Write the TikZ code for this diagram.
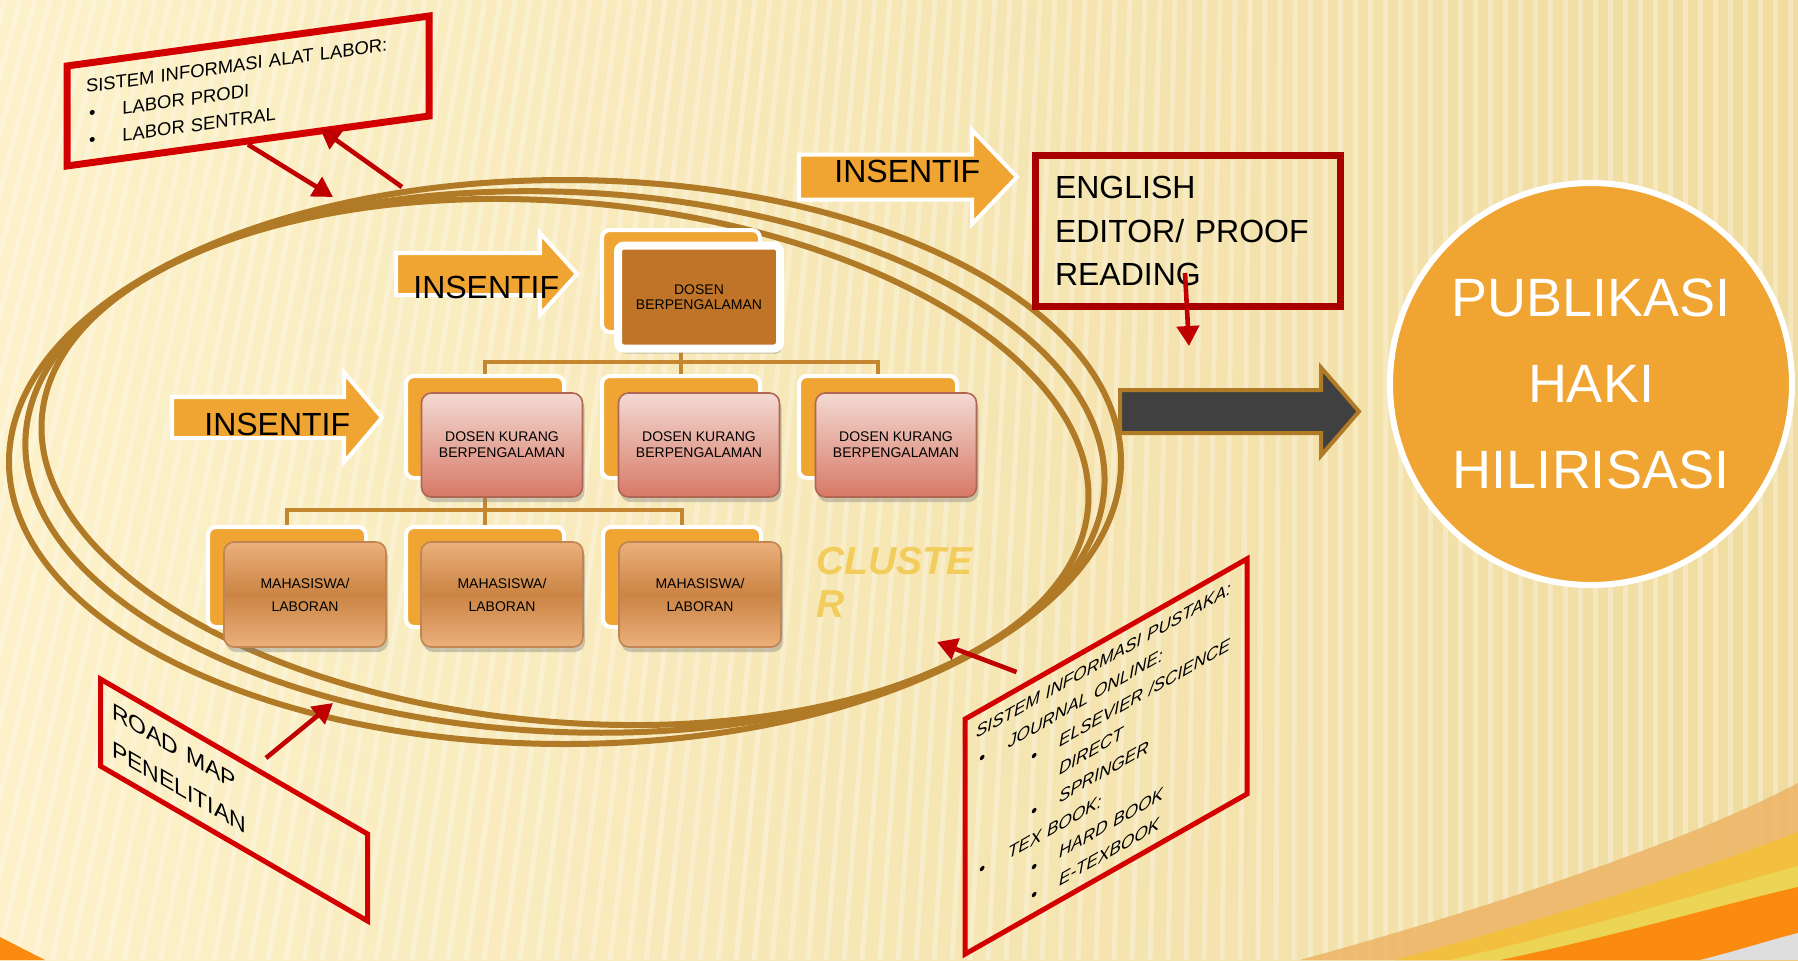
\documentclass[tikz,border=0pt]{standalone}
\usepackage{fontspec}
\setmainfont{Liberation Sans}
\usetikzlibrary{calc,shadows,arrows.meta}
\definecolor{bgleft}{HTML}{FCF1C9}
\definecolor{bgright}{HTML}{F0DCA0}
\definecolor{ringbrown}{HTML}{B07A26}
\definecolor{insorange}{HTML}{F0A431}
\definecolor{boxred}{HTML}{D20000}
\definecolor{arrred}{HTML}{C00000}
\definecolor{engred}{HTML}{A80000}
\definecolor{topbrown}{HTML}{C07428}
\definecolor{connbrown}{HTML}{C4862E}
\definecolor{pinktop}{HTML}{F3DAD3}
\definecolor{pinkbot}{HTML}{D77966}
\definecolor{pinkedge}{HTML}{AF6652}
\definecolor{mhlight}{HTML}{EBB07C}
\definecolor{mhdark}{HTML}{CB8444}
\definecolor{mhedge}{HTML}{C08552}
\definecolor{clustercol}{HTML}{F3CD5C}
\definecolor{darkbody}{HTML}{404040}
\definecolor{swlight}{HTML}{EDB466}
\definecolor{swyellow}{HTML}{F3BF3E}
\definecolor{swpale}{HTML}{ECD455}
\definecolor{sworange}{HTML}{FA8B10}
\definecolor{swgrey}{HTML}{DEDEDE}

\tikzset{
  stripe/.style={draw=white, opacity=.3, line width=2.5pt},
  ring/.style={draw=ringbrown, line width=3pt},
  conn/.style={draw=connbrown, line width=2pt},
  backbox/.style={fill=insorange, draw=white, line width=2pt, rounded corners=4pt,
    minimum width=79pt, minimum height=51pt},
  topbox/.style={fill=topbrown, draw=white, line width=4pt, rounded corners=3pt,
    minimum width=81pt, minimum height=51.5pt, align=center,
    font=\fontsize{7}{7.5}\selectfont,
    drop shadow={opacity=.4, shadow xshift=1pt, shadow yshift=-2.5pt}},
  dosbox/.style={top color=pinktop, bottom color=pinkbot, draw=pinkedge, line width=.8pt,
    rounded corners=5pt, minimum width=80.5pt, minimum height=52pt, align=center,
    font=\fontsize{7}{8}\selectfont,
    drop shadow={opacity=.4, shadow xshift=1pt, shadow yshift=-2.5pt}},
  mhsbox/.style={top color=mhlight, bottom color=mhlight, middle color=mhdark,
    draw=mhedge, line width=.8pt, rounded corners=5pt, minimum width=81pt,
    minimum height=52.5pt, align=center, font=\fontsize{7}{11.5}\selectfont,
    drop shadow={opacity=.4, shadow xshift=1pt, shadow yshift=-2.5pt}},
  insarrow/.style={fill=insorange, draw=white, line width=2pt},
  instext/.style={font=\fontsize{16}{16}\selectfont, anchor=base west, inner sep=0pt},
  redbox/.style={draw=boxred, align=left, inner sep=0pt},
  redarr/.style={draw=arrred, line width=2.3pt, -{Triangle[length=10pt,width=11pt]}},
}

% fat block arrow: style, tail x, axis y, half shaft, head base x, tip x, half head
\newcommand{\fatarrow}[7]{%
  \path[#1] (#2,#3-#4) -- (#5,#3-#4) -- (#5,#3-#7) -- (#6,#3)
    -- (#5,#3+#7) -- (#5,#3+#4) -- (#2,#3+#4) -- cycle;}

\begin{document}
\begin{tikzpicture}[x=0.5pt, y=-0.5pt]
\useasboundingbox (0,0) rectangle (1798,960);

% background
\begin{scope}
\clip (0,0) rectangle (1798,960);
\shade[left color=bgleft, right color=bgright] (0,0) rectangle (1798,960);
\foreach \x in {-400,-385,...,1800}
  \draw[stripe] (\x,0) -- ({\x-max(0,0.2*(1300-\x))},960);
\fill[swlight, opacity=.85] (1300,960) .. controls (1500,905) and (1690,840) .. (1798,783) -- (1798,960) -- cycle;
\fill[swyellow] (1395,960) .. controls (1560,915) and (1700,870) .. (1798,832) -- (1798,960) -- cycle;
\fill[swpale] (1450,960) .. controls (1600,925) and (1710,890) .. (1798,866) -- (1798,960) -- cycle;
\fill[sworange] (1500,960) .. controls (1620,935) and (1720,905) .. (1798,887) -- (1798,960) -- cycle;
\fill[swgrey] (1700,960) .. controls (1740,950) and (1770,940) .. (1798,933) -- (1798,960) -- cycle;
\fill[sworange] (0,937) -- (45,960) -- (0,960) -- cycle;
\end{scope}

% cluster rings
\coordinate (cl) at (565,462);
\draw[ring] (cl) ellipse [x radius=556, y radius=282];
\draw[ring, rotate around={-2.5:(cl)}] (cl) ellipse [x radius=540, y radius=270];
\draw[ring, rotate around={-5:(cl)}] (cl) ellipse [x radius=525, y radius=260];

% org chart
\node[backbox] (d0b) at (681,281) {};
\node[backbox] (d1b) at (485,427) {};
\node[backbox] (d2b) at (681,427) {};
\node[backbox] (d3b) at (878,427) {};
\node[backbox, minimum height=50pt] (m1b) at (287,577) {};
\node[backbox, minimum height=50pt] (m2b) at (485,577) {};
\node[backbox, minimum height=50pt] (m3b) at (682,577) {};

\draw[conn] (d0b.south) -- (d2b.north);
\draw[conn] (d1b.north) -- ++(0,-12) -| (d3b.north);
\draw[conn] (d1b.south) -- (m2b.north);
\draw[conn] (m1b.north) -- ++(0,-15) -| (m3b.north);

\node[topbox] (d0) at (699,297) {DOSEN\\BERPENGALAMAN};
\node[dosbox] (d1) at (502,445) {DOSEN KURANG\\BERPENGALAMAN};
\node[dosbox] (d2) at (699,445) {DOSEN KURANG\\BERPENGALAMAN};
\node[dosbox] (d3) at (896,445) {DOSEN KURANG\\BERPENGALAMAN};
\node[mhsbox] (m1) at (305,594.5) {MAHASISWA/\\LABORAN};
\node[mhsbox] (m2) at (502,594.5) {MAHASISWA/\\LABORAN};
\node[mhsbox] (m3) at (700,594.5) {MAHASISWA/\\LABORAN};

\node[text=clustercol, align=left, anchor=north west, inner sep=0pt,
  font=\fontsize{19.5}{21.5}\selectfont\bfseries\itshape] (clu) at (816,547) {CLUSTE\\R};

% incentive arrows
\fatarrow{insarrow}{799}{177}{22.5}{972}{1017}{47}
\fatarrow{insarrow}{396}{274}{21}{540}{577}{41}
\fatarrow{insarrow}{172}{417.5}{20.5}{344}{382}{45}
\node[instext] (ins1) at (834,182) {INSENTIF};
\node[instext] (ins2) at (413,298) {INSENTIF};
\node[instext] (ins3) at (204,435) {INSENTIF};

% output
\fatarrow{fill=darkbody, draw=ringbrown, line width=2pt}{1120}{411.5}{21.5}{1321}{1359}{44}
\node[circle, fill=insorange, draw=white, line width=3pt, minimum size=201pt,
  text=white, align=center, font=\fontsize{27}{43}\selectfont] (pub) at (1591,384)
  {PUBLIKASI\\HAKI\\HILIRISASI};

\node[draw=engred, line width=3.5pt, minimum width=152.5pt, minimum height=75.5pt,
  text width=133pt, align=left, inner sep=0pt, font=\fontsize{16}{21.75}\selectfont]
  (eng) at (1188,231) {ENGLISH\\EDITOR/ PROOF\\READING};

% support boxes
\node[redbox, line width=3.5pt, yslant=0.138, minimum width=181pt, minimum height=50pt,
  text width=162pt, font=\fontsize{9.2}{13.5}\selectfont] (labbox) at (248,91)
  {SISTEM INFORMASI ALAT LABOR:\\
   \hspace*{1.5pt}\textbullet\hspace{13.5pt}LABOR PRODI\\
   \hspace*{1.5pt}\textbullet\hspace{13.5pt}LABOR SENTRAL};

\node[redbox, line width=2.5pt, yslant=-0.58, minimum width=133.5pt, minimum height=43.5pt,
  text width=122pt, font=\fontsize{11.5}{19}\selectfont] (mapbox) at (234,800)
  {ROAD MAP\\PENELITIAN};

\node[redbox, line width=2.5pt, yslant=0.568, minimum width=141pt, minimum height=117.5pt,
  text width=130pt, font=\fontsize{8.6}{13.9}\selectfont\itshape] (libbox) at (1106,756.5)
  {SISTEM INFORMASI PUSTAKA:\\
   \hspace*{1.5pt}\textbullet\hspace{11.5pt}JOURNAL ONLINE:\\
   \hspace*{27.5pt}\textbullet\hspace{11pt}ELSEVIER /SCIENCE\\
   \hspace*{41.5pt}DIRECT\\
   \hspace*{27.5pt}\textbullet\hspace{11pt}SPRINGER\\
   \hspace*{1.5pt}\textbullet\hspace{11.5pt}TEX BOOK:\\
   \hspace*{27.5pt}\textbullet\hspace{11pt}HARD BOOK\\
   \hspace*{27.5pt}\textbullet\hspace{11pt}E-TEXBOOK};

% red connectors
\coordinate (r1) at (333,197);
\coordinate (r2) at (402,187);
\coordinate (r3) at (333,703);
\coordinate (r4) at (937,642);
\coordinate (e1) at (1189,346);
\draw[redarr] (labbox.south) -- (r1);
\draw[redarr] (r2) -- ([xshift=36pt,yshift=8pt]labbox.south);
\draw[redarr] ([xshift=16pt,yshift=-2pt]mapbox.north) -- (r3);
\draw[redarr] ([xshift=27pt,yshift=23pt]libbox.north west) -- (r4);
\draw[redarr] ([xshift=-1.5pt,yshift=18.5pt]eng.south) -- (e1);
\end{tikzpicture}
\end{document}
